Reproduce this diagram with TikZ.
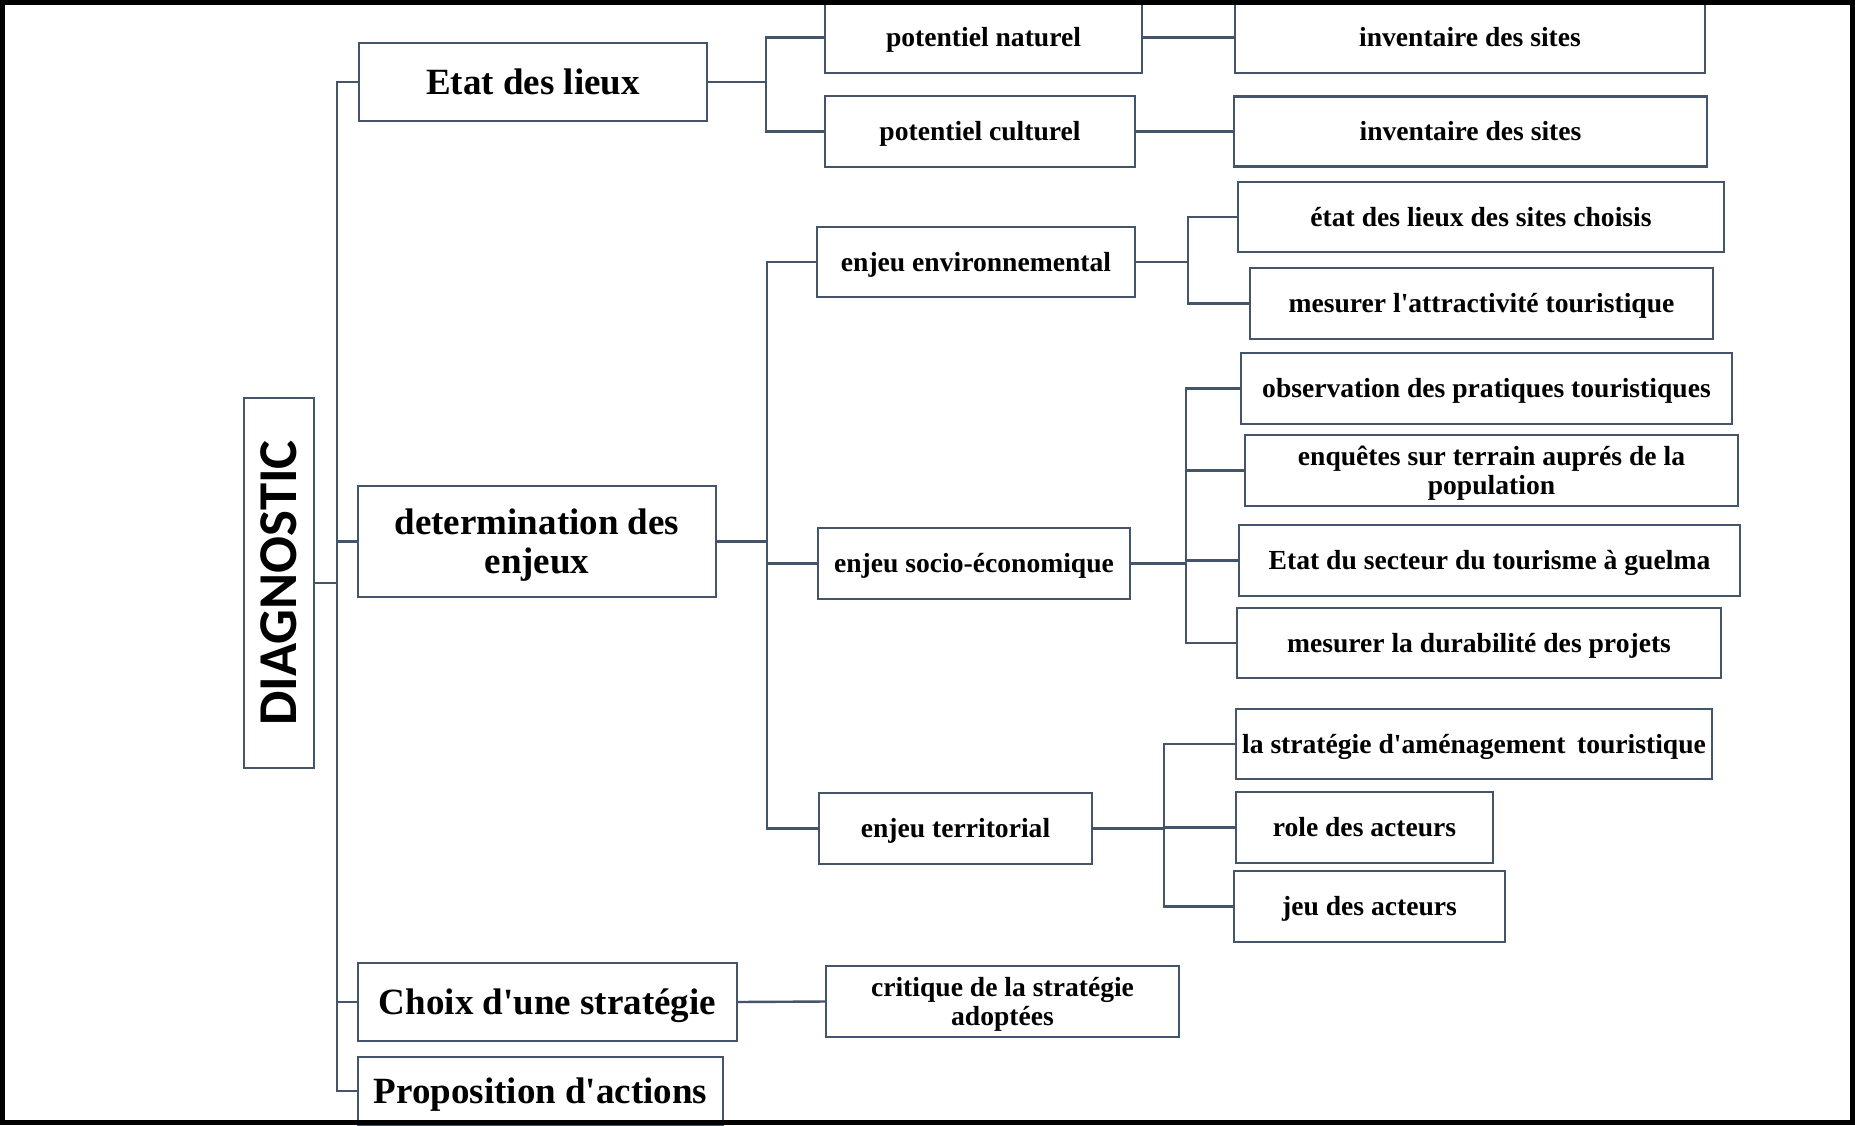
\documentclass[tikz,border=0pt]{standalone}
\usepackage{fontspec}
\setmainfont{Liberation Serif}
\newfontfamily\diagfont{Carlito}
\definecolor{slate}{HTML}{44546A}
% centred lines with a fixed line box, lowered a little inside the frame
\newcommand\bigtx[1]{\raisebox{-4.6bp}[\height][\depth]{\begin{tabular}{@{}c@{}}#1\end{tabular}}}
\newcommand\tx[1]{\raisebox{-3.4bp}[\height][\depth]{\begin{tabular}{@{}c@{}}#1\end{tabular}}}
\newcommand\q{\textquotesingle}
\begin{document}
\begin{tikzpicture}[x=1bp,y=-1bp,
  box/.style={draw=slate, line width=2.4bp, fill=white, inner sep=0pt, outer sep=0pt,
    text=black},
  big/.style={box, font=\bfseries\fontsize{37bp}{39bp}\selectfont},
  small/.style={box, font=\bfseries\fontsize{27.6bp}{29.5bp}\selectfont},
  link/.style={draw=slate, line width=2.4bp}]
\useasboundingbox (0,0) rectangle (1855,1125);
\clip (0,0) rectangle (1855,1125);
\fill[white] (0,0) rectangle (1855,1125);

% root
\node[box, minimum width=70bp, minimum height=370bp] (diag) at (279,583)
  {\rotatebox{90}{\diagfont\bfseries\fontsize{54.7bp}{56bp}\selectfont DIAGNOSTIC}};

% first level
\node[big, minimum width=348bp, minimum height=78bp] (etat) at (533,82) {\bigtx{Etat des lieux}};
\node[big, minimum width=358bp, minimum height=111bp] (det) at (537,541.5) {\bigtx{determination des\\enjeux}};
\node[big, minimum width=379bp, minimum height=78bp] (choix) at (547.5,1002) {\bigtx{Choix d\q une stratégie}};
\node[big, minimum width=365bp, minimum height=68bp] (prop) at (540.5,1091) {\bigtx{Proposition d\q actions}};

% second level
\node[small, minimum width=317bp, minimum height=71bp] (pnat) at (983.5,37.5) {\tx{potentiel naturel}};
\node[small, minimum width=310bp, minimum height=71bp] (pcul) at (980,131.5) {\tx{potentiel culturel}};
\node[small, minimum width=318bp, minimum height=70bp] (env) at (976,262) {\tx{enjeu environnemental}};
\node[small, minimum width=312bp, minimum height=71bp] (socio) at (974,563.5) {\tx{enjeu socio-économique}};
\node[small, minimum width=273bp, minimum height=71bp] (terr) at (955.5,828.5) {\tx{enjeu territorial}};
\node[small, minimum width=353bp, minimum height=71bp] (crit) at (1002.5,1001.5) {\tx{critique de la stratégie\\adoptées}};

% third level
\node[small, minimum width=470bp, minimum height=71bp] (inv1) at (1470,37.5) {\tx{inventaire des sites}};
\node[small, minimum width=473bp, minimum height=70bp] (inv2) at (1470.5,131.5) {\tx{inventaire des sites}};
\node[small, minimum width=486bp, minimum height=70bp] (etsc) at (1481,217) {\tx{état des lieux des sites choisis}};
\node[small, minimum width=463bp, minimum height=71bp] (attr) at (1481.5,303.5) {\tx{mesurer l\q attractivité touristique}};
\node[small, minimum width=491bp, minimum height=71bp] (obs) at (1486.5,388.5) {\tx{observation des pratiques touristiques}};
\node[small, minimum width=493bp, minimum height=71bp] (enq) at (1491.5,470.5) {\tx{enquêtes sur terrain auprés de la\\population}};
\node[small, minimum width=501bp, minimum height=71bp] (sect) at (1489.5,560.5) {\tx{Etat du secteur du tourisme à guelma}};
\node[small, minimum width=484bp, minimum height=70bp] (dur) at (1479,643) {\tx{mesurer la durabilité des projets}};
\node[small, minimum width=476bp, minimum height=70bp] (strat) at (1474,744) {\tx{la stratégie d\q aménagement\, touristique}};
\node[small, minimum width=257bp, minimum height=71bp] (role) at (1364.5,827.5) {\tx{role des acteurs}};
\node[small, minimum width=271bp, minimum height=71bp] (jeu) at (1369.5,906.5) {\tx{jeu des acteurs}};

% vertical trunks
\coordinate (t1) at (337,0);
\coordinate (t2) at (766,0);
\coordinate (t3) at (767,0);
\coordinate (t4) at (1188,0);
\coordinate (t5) at (1186,0);
\coordinate (t6) at (1164,0);

% root trunk
\draw[link] (etat.west) -- (etat.west -| t1) -- (prop.west -| t1) -- (prop.west);
\draw[link] (det.west) -- (det.west -| t1);
\draw[link] (choix.west) -- (choix.west -| t1);
\draw[link] (diag.east) -- (diag.east -| t1);

% Etat des lieux branch
\draw[link] (etat.east) -- (etat.east -| t2);
\draw[link] (pnat.west) -- (pnat.west -| t2) -- (pcul.west -| t2) -- (pcul.west);
\draw[link] (pnat.east) -- (inv1.west);
\draw[link] (pcul.east) -- (inv2.west);

% enjeux branch
\draw[link] (env.west) -- (env.west -| t3) -- (terr.west -| t3) -- (terr.west);
\draw[link] (det.east) -- (det.east -| t3);
\draw[link] (socio.west) -- (socio.west -| t3);

% environmental stakes
\draw[link] (env.east) -- (env.east -| t4);
\draw[link] (etsc.west) -- (etsc.west -| t4) -- (attr.west -| t4) -- (attr.west);

% socio-economic stakes
\draw[link] (socio.east) -- (socio.east -| t5);
\draw[link] (obs.west) -- (obs.west -| t5) -- (dur.west -| t5) -- (dur.west);
\draw[link] (enq.west) -- (enq.west -| t5);
\draw[link] (sect.west) -- (sect.west -| t5);

% territorial stakes
\draw[link] (terr.east) -- (terr.east -| t6);
\draw[link] (strat.west) -- (strat.west -| t6) -- (jeu.west -| t6) -- (jeu.west);
\draw[link] (role.west) -- (role.west -| t6);

% strategy
\draw[link] (choix.east) -- (crit.west);

% outer frame
\draw[line width=5bp] (2.5,2.5) rectangle (1852.5,1122.5);
\end{tikzpicture}
\end{document}
